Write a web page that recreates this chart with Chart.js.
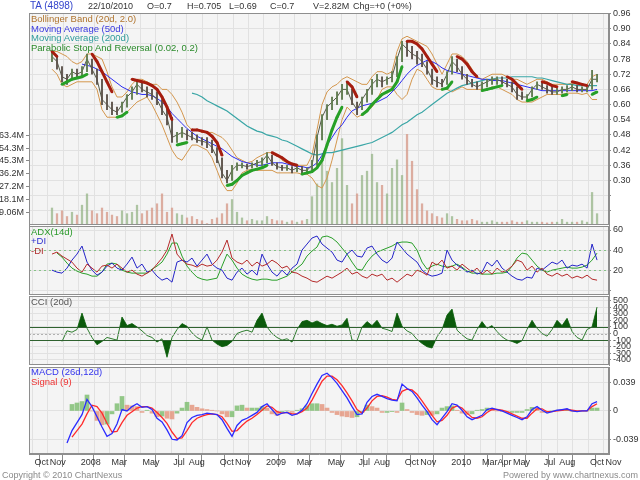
<!DOCTYPE html>
<html>
<head>
<meta charset="utf-8">
<title>TA (4898)</title>
<script src="https://cdn.jsdelivr.net/npm/chart.js@4.4.1/dist/chart.umd.min.js"></script>
<style>
  html, body { margin: 0; padding: 0; background: #fff; }
  #page { position: relative; width: 640px; height: 480px; overflow: hidden; font-family: "Liberation Sans", Arial, sans-serif; }
  #page canvas { position: absolute; left: 0; }
  .txt { position: absolute; font-size: 9.5px; line-height: 10px; white-space: nowrap; }
  .hdr { font-size: 9px; color: #333; top: 1px; }
</style>
</head>
<body>
<div id="page">
  <canvas id="price-chart" width="640" height="224" style="top:7px"></canvas>
  <canvas id="adx-chart" width="640" height="81" style="top:220px"></canvas>
  <canvas id="cci-chart" width="640" height="81" style="top:290px"></canvas>
  <canvas id="macd-chart" width="640" height="113" style="top:361px"></canvas>

  <div class="txt hdr" style="left:30px;color:#3344cc;font-size:10px">TA (4898)</div>
  <div class="txt hdr" style="left:88px">22/10/2010</div>
  <div class="txt hdr" style="left:147px">O=0.7</div>
  <div class="txt hdr" style="left:187px">H=0.705</div>
  <div class="txt hdr" style="left:229px">L=0.69</div>
  <div class="txt hdr" style="left:270px">C=0.7</div>
  <div class="txt hdr" style="left:313px">V=2.82M</div>
  <div class="txt hdr" style="left:353px">Chg=+0 (+0%)</div>

  <div class="txt" style="left:31px;top:14px;color:#b0742e">Bollinger Band (20d, 2.0)</div>
  <div class="txt" style="left:31px;top:24px;color:#3a3ae0">Moving Average (50d)</div>
  <div class="txt" style="left:31px;top:33px;color:#2f9c9c">Moving Average (200d)</div>
  <div class="txt" style="left:31px;top:43px;color:#2a8a2a">Parabolic Stop And Reversal (0.02, 0.2)</div>

  <div class="txt" style="left:31px;top:227px;color:#2a9a2a">ADX(14d)</div>
  <div class="txt" style="left:31px;top:236px;color:#2f2fd0">+DI</div>
  <div class="txt" style="left:31px;top:246px;color:#b03030">-DI</div>

  <div class="txt" style="left:31px;top:297px;color:#555">CCI (20d)</div>

  <div class="txt" style="left:31px;top:367px;color:#3333ee">MACD (26d,12d)</div>
  <div class="txt" style="left:31px;top:377px;color:#ee3333">Signal (9)</div>

  <div class="txt" style="left:2px;top:470px;color:#8a8a8a;font-size:9px">Copyright © 2010 ChartNexus</div>
  <div class="txt" style="right:2px;top:470px;color:#8a8a8a;font-size:9px">Powered by www.chartnexus.com</div>
</div>

<script>
// Points are roughly one per week, x measured in months from 1 Oct 2007
const firstMonth = 1.3;
const monthStep = 0.324;

const closes = [
  0.79,0.77,0.71,0.70,0.73,0.72,0.73,0.78,0.74,0.70,
  0.62,0.60,0.58,0.57,0.60,0.63,0.65,0.68,0.66,0.65,
  0.64,0.62,0.58,0.55,0.47,0.48,0.49,0.48,0.47,0.46,
  0.455,0.45,0.43,0.39,0.33,0.30,0.34,0.36,0.36,0.355,
  0.36,0.37,0.375,0.40,0.37,0.355,0.35,0.35,0.34,0.35,
  0.34,0.34,0.36,0.47,0.55,0.59,0.61,0.63,0.66,0.66,
  0.61,0.58,0.62,0.65,0.68,0.70,0.69,0.70,0.71,0.78,
  0.84,0.82,0.80,0.79,0.77,0.74,0.70,0.69,0.68,0.72,
  0.77,0.75,0.72,0.70,0.68,0.67,0.68,0.69,0.70,0.70,
  0.69,0.68,0.67,0.64,0.63,0.63,0.66,0.68,0.67,0.66,
  0.65,0.65,0.66,0.66,0.67,0.66,0.66,0.66,0.70,0.70
];
const highs = [
  0.81,0.79,0.75,0.72,0.74,0.74,0.75,0.80,0.78,0.74,
  0.70,0.64,0.61,0.59,0.61,0.64,0.67,0.69,0.69,0.67,
  0.66,0.65,0.62,0.59,0.55,0.49,0.51,0.50,0.49,0.48,
  0.47,0.47,0.46,0.43,0.39,0.34,0.36,0.37,0.37,0.365,
  0.37,0.38,0.39,0.41,0.40,0.37,0.36,0.36,0.355,0.36,
  0.355,0.35,0.38,0.48,0.56,0.60,0.63,0.65,0.68,0.69,
  0.66,0.61,0.63,0.66,0.70,0.72,0.71,0.71,0.73,0.79,
  0.85,0.85,0.83,0.81,0.80,0.77,0.74,0.71,0.70,0.73,
  0.79,0.78,0.75,0.72,0.70,0.69,0.69,0.70,0.71,0.71,
  0.71,0.70,0.69,0.67,0.65,0.64,0.67,0.69,0.69,0.675,
  0.67,0.665,0.67,0.675,0.68,0.675,0.67,0.67,0.735,0.72
];
const lows = [
  0.77,0.74,0.69,0.68,0.70,0.71,0.71,0.73,0.72,0.68,
  0.60,0.58,0.56,0.56,0.57,0.59,0.62,0.64,0.65,0.63,
  0.62,0.60,0.56,0.52,0.45,0.45,0.47,0.46,0.46,0.45,
  0.44,0.43,0.41,0.37,0.31,0.29,0.30,0.34,0.35,0.345,
  0.35,0.355,0.36,0.37,0.36,0.345,0.34,0.34,0.33,0.335,
  0.33,0.33,0.34,0.36,0.46,0.54,0.58,0.60,0.62,0.64,
  0.60,0.56,0.58,0.61,0.64,0.67,0.67,0.68,0.69,0.71,
  0.77,0.79,0.78,0.76,0.75,0.72,0.68,0.67,0.67,0.68,
  0.72,0.73,0.70,0.68,0.67,0.66,0.66,0.67,0.68,0.68,
  0.68,0.67,0.65,0.62,0.62,0.615,0.63,0.66,0.66,0.645,
  0.64,0.64,0.645,0.65,0.655,0.65,0.65,0.65,0.66,0.69
];
const bbUpper = [
  0.81,0.81,0.80,0.79,0.77,0.76,0.77,0.80,0.80,0.79,
  0.78,0.73,0.67,0.63,0.63,0.65,0.68,0.70,0.70,0.69,
  0.68,0.68,0.66,0.66,0.64,0.61,0.57,0.52,0.50,0.50,
  0.49,0.49,0.49,0.48,0.47,0.45,0.42,0.39,0.38,0.37,
  0.375,0.39,0.40,0.41,0.41,0.40,0.38,0.37,0.365,0.36,
  0.36,0.36,0.40,0.50,0.60,0.65,0.67,0.68,0.70,0.71,
  0.70,0.69,0.68,0.68,0.71,0.73,0.73,0.72,0.73,0.81,
  0.86,0.87,0.86,0.85,0.84,0.83,0.80,0.76,0.72,0.76,
  0.80,0.80,0.79,0.77,0.74,0.71,0.70,0.71,0.72,0.72,
  0.72,0.71,0.70,0.70,0.69,0.68,0.69,0.70,0.70,0.69,
  0.68,0.68,0.68,0.68,0.685,0.685,0.68,0.68,0.71,0.72
];
const bbLower = [
  0.74,0.72,0.68,0.67,0.68,0.69,0.69,0.69,0.69,0.66,
  0.58,0.55,0.55,0.55,0.56,0.57,0.59,0.61,0.62,0.63,
  0.60,0.56,0.52,0.47,0.42,0.39,0.38,0.41,0.44,0.44,
  0.43,0.42,0.39,0.34,0.29,0.26,0.26,0.29,0.33,0.34,
  0.345,0.34,0.34,0.34,0.34,0.33,0.33,0.33,0.33,0.33,
  0.325,0.325,0.31,0.28,0.27,0.31,0.38,0.46,0.54,0.59,
  0.57,0.55,0.56,0.58,0.59,0.62,0.66,0.67,0.67,0.64,
  0.62,0.64,0.70,0.74,0.73,0.70,0.67,0.66,0.66,0.66,
  0.65,0.66,0.67,0.66,0.66,0.66,0.66,0.66,0.67,0.67,
  0.66,0.65,0.64,0.62,0.61,0.61,0.61,0.62,0.63,0.64,
  0.64,0.64,0.64,0.645,0.645,0.645,0.64,0.645,0.62,0.62
];
const ma50 = [
  null,null,null,null,null,null,0.76,0.755,0.75,0.74,
  0.73,0.715,0.70,0.685,0.67,0.66,0.65,0.645,0.64,0.64,
  0.635,0.625,0.61,0.59,0.565,0.545,0.525,0.505,0.49,0.475,
  0.465,0.455,0.445,0.435,0.425,0.41,0.395,0.385,0.375,0.37,
  0.365,0.36,0.36,0.365,0.37,0.37,0.37,0.365,0.36,0.355,
  0.355,0.35,0.355,0.37,0.40,0.44,0.47,0.50,0.52,0.55,
  0.575,0.585,0.595,0.60,0.605,0.61,0.62,0.63,0.65,0.67,
  0.695,0.72,0.74,0.755,0.765,0.775,0.77,0.76,0.745,0.735,
  0.73,0.725,0.72,0.715,0.71,0.705,0.70,0.70,0.695,0.695,
  0.695,0.69,0.685,0.68,0.675,0.67,0.665,0.66,0.655,0.655,
  0.655,0.655,0.655,0.655,0.655,0.655,0.655,0.655,0.655,0.66
];
const ma200 = [
  null,null,null,null,null,null,null,null,null,null,
  null,null,null,null,null,null,null,null,null,null,
  null,null,null,null,null,null,null,null,0.645,0.64,
  0.63,0.615,0.605,0.595,0.585,0.575,0.56,0.545,0.53,0.515,
  0.505,0.495,0.49,0.48,0.475,0.47,0.46,0.455,0.445,0.435,
  0.425,0.415,0.405,0.40,0.405,0.41,0.41,0.415,0.42,0.425,
  0.43,0.435,0.44,0.445,0.45,0.46,0.47,0.48,0.49,0.505,
  0.52,0.53,0.545,0.56,0.57,0.585,0.60,0.615,0.63,0.645,
  0.655,0.665,0.675,0.68,0.685,0.69,0.695,0.70,0.70,0.705,
  0.705,0.705,0.71,0.71,0.71,0.71,0.71,0.705,0.705,0.70,
  0.695,0.69,0.685,0.68,0.68,0.675,0.675,0.675,0.675,0.675
];
// parabolic SAR, above the price (falling) and below it (rising)
const sarAbove = [
  0.81,0.79,null,null,null,null,null,null,0.80,0.77,
  0.73,0.69,0.65,null,null,null,0.70,0.695,0.69,0.685,
  0.675,0.66,0.63,0.59,0.54,null,null,null,0.50,0.50,
  0.495,0.49,0.475,0.45,0.40,null,null,null,null,null,
  null,null,null,null,0.41,0.40,0.39,0.375,0.365,0.36,
  null,null,null,null,null,null,null,null,null,0.69,
  0.67,0.63,null,null,null,null,null,null,null,null,
  null,0.85,0.85,0.84,0.82,0.79,0.76,0.73,null,null,
  null,0.79,0.78,0.76,0.73,0.71,null,null,null,null,
  null,0.71,0.70,0.68,0.66,null,null,null,0.69,0.685,
  0.675,0.67,null,null,0.69,0.685,0.68,0.675,null,null
];
const sarBelow = [
  null,null,0.68,0.69,0.70,0.705,0.71,0.72,null,null,
  null,null,null,0.55,0.555,0.57,null,null,null,null,
  null,null,null,null,null,0.44,0.445,0.45,null,null,
  null,null,null,null,null,0.28,0.285,0.30,0.32,0.33,
  0.34,0.345,0.35,0.36,null,null,null,null,null,null,
  0.325,0.33,0.335,0.35,0.38,0.44,0.50,0.55,0.59,null,
  null,null,0.56,0.575,0.60,0.62,0.64,0.65,0.66,0.69,
  0.75,null,null,null,null,null,null,null,0.66,0.665,
  0.69,null,null,null,null,null,0.655,0.66,0.665,0.67,
  0.675,null,null,null,null,0.615,0.62,0.63,null,null,
  null,null,0.635,0.64,null,null,null,null,0.64,0.65
];
// volume in millions of shares
const volumes = [
  12,8,10,6,9,7,14,22,10,8,
  12,9,7,6,10,8,9,14,8,10,
  12,15,22,9,12,8,7,5,6,4,
  3,1,4,5,8,15,18,9,5,3,
  4,3,3,6,4,3,3,2,3,2,
  3,4,20,29,45,38,30,40,61,28,
  15,22,35,38,50,30,28,22,40,46,
  35,64,45,25,15,10,8,6,5,8,
  6,4,3,3,4,3,2,2,3,2,
  2,2,3,2,2,3,2,2,2,1.5,
  2,2,4,2,2,2,3,2,23,8
];
const plusDI = [
  20,18,17,22,30,36,44,28,20,15,
  18,24,27,22,20,26,33,22,26,18,
  20,14,10,12,8,28,30,28,32,24,
  30,36,26,22,20,12,10,18,22,16,
  20,15,36,26,18,14,20,15,22,26,
  40,46,52,54,46,42,38,30,28,36,
  40,34,33,42,44,36,30,27,32,48,
  42,36,32,28,20,16,14,15,17,40,
  30,25,22,18,20,16,18,28,24,30,
  22,18,14,11,10,13,12,22,20,24,
  28,26,30,22,25,24,26,22,46,30
];
const minusDI = [
  36,38,34,31,28,22,18,26,22,18,
  24,25,22,26,22,18,20,16,14,17,
  20,26,32,40,56,36,30,26,25,23,
  26,24,25,30,38,50,32,28,26,30,
  24,28,24,26,30,27,22,24,18,17,
  14,12,9,8,11,14,12,15,18,22,
  16,18,14,12,16,14,16,10,12,8,
  12,16,14,20,18,15,28,25,30,22,
  24,20,26,22,18,22,16,20,16,22,
  18,20,24,30,28,20,24,18,22,16,
  14,17,14,16,12,14,12,15,11,10
];
const adx = [
  null,37,33,27,22,19,17,16,14,14,
  18,26,27,26,20,18,17,17,17,17,
  21,24,28,36,47,47,34,24,18,13,
  11,10,11,12,24,36,30,22,16,13,
  11,10,11,11,10,10,12,14,18,22,
  26,34,39,43,53,54,52,48,42,36,
  28,21,20,28,34,38,40,42,44,47,
  48,48,47,40,28,21,24,26,24,23,
  24,26,23,19,17,17,16,16,16,17,
  17,18,24,32,37,36,30,24,20,18,
  20,21,22,23,22,22,23,25,30,37
];
const cci = [
  null,null,-120,40,20,60,310,80,-60,-170,
  -120,-60,-80,-100,250,120,150,100,40,-30,
  -60,-130,-80,-360,-60,60,150,110,10,-60,
  -100,100,-100,-160,-200,-180,-120,0,30,50,
  20,200,310,100,0,-60,-100,-80,-130,60,
  180,200,160,190,150,120,140,110,130,230,
  -100,-110,100,180,120,200,80,60,30,310,
  110,40,0,-90,-150,-200,-220,-50,60,280,
  370,50,-20,-80,-100,60,180,80,120,30,
  -50,-100,-120,-150,-110,60,200,80,0,-40,
  60,200,120,230,30,-60,-100,60,100,400
];
const macd = [
  null,null,null,-0.044,-0.027,-0.016,-0.005,0.016,0.006,-0.008,
  -0.022,-0.035,-0.031,-0.018,0.002,0.000,0.006,0.010,0.005,0.006,
  0.002,-0.010,-0.015,-0.026,-0.039,-0.040,-0.034,-0.016,-0.009,-0.006,
  -0.005,-0.003,-0.004,-0.005,-0.012,-0.024,-0.035,-0.020,-0.013,-0.010,
  -0.006,-0.002,0.006,0.010,0.002,-0.006,-0.003,-0.002,-0.006,-0.004,
  0.001,0.010,0.024,0.037,0.049,0.052,0.046,0.038,0.028,0.018,
  0.006,-0.005,-0.004,0.012,0.020,0.023,0.020,0.017,0.015,0.014,
  0.037,0.031,0.027,0.018,0.008,-0.001,-0.012,-0.019,-0.010,-0.001,
  0.010,0.008,0.001,-0.008,-0.012,-0.009,-0.006,0.002,0.004,0.002,
  0.000,-0.003,-0.006,-0.009,-0.012,-0.008,0.002,0.006,0.001,-0.003,
  -0.001,0.001,0.002,0.003,0.000,-0.001,0.000,0.000,0.010,0.013
];
const signal = [
  null,null,null,null,-0.036,-0.027,-0.018,-0.004,0.008,0.006,
  -0.003,-0.017,-0.029,-0.028,-0.016,-0.006,-0.001,0.004,0.006,0.006,
  0.004,-0.002,-0.009,-0.017,-0.029,-0.038,-0.037,-0.027,-0.016,-0.010,
  -0.007,-0.005,-0.004,-0.005,-0.008,-0.017,-0.028,-0.027,-0.020,-0.014,
  -0.010,-0.005,0.001,0.007,0.005,-0.001,-0.003,-0.002,-0.004,-0.004,
  -0.001,0.004,0.015,0.028,0.041,0.048,0.048,0.043,0.035,0.025,
  0.014,0.002,-0.003,0.004,0.014,0.020,0.021,0.019,0.016,0.015,
  0.027,0.030,0.029,0.023,0.014,0.004,-0.006,-0.015,-0.013,-0.006,
  0.004,0.007,0.004,-0.003,-0.009,-0.010,-0.008,-0.002,0.002,0.002,
  0.001,-0.001,-0.004,-0.007,-0.010,-0.010,-0.003,0.003,0.003,-0.001,
  -0.001,0.000,0.001,0.002,0.001,0.000,0.000,0.000,0.006,0.010
];
const macdHist = [
  null,null,null,null,0.009,0.011,0.013,0.022,0.000,-0.013,
  -0.019,-0.018,-0.004,0.010,0.020,0.008,0.007,0.006,-0.002,0.001,
  -0.003,-0.008,-0.007,-0.010,-0.011,-0.003,0.004,0.012,0.008,0.005,
  0.003,0.002,0.001,0.000,-0.004,-0.008,-0.008,0.007,0.008,0.004,
  0.004,0.004,0.006,0.004,-0.004,-0.006,-0.001,0.000,-0.002,0.001,
  0.003,0.007,0.010,0.010,0.009,0.004,-0.002,-0.005,-0.007,-0.008,
  -0.009,-0.008,-0.002,0.008,0.006,0.004,-0.002,-0.002,-0.001,-0.002,
  0.011,0.002,-0.002,-0.005,-0.006,-0.005,-0.006,-0.004,0.004,0.006,
  0.007,0.001,-0.003,-0.005,-0.004,0.001,0.002,0.004,0.003,0.000,
  -0.001,-0.002,-0.002,-0.002,-0.002,0.002,0.005,0.004,-0.002,-0.002,
  0.000,0.001,0.001,0.001,-0.001,-0.001,0.000,0.000,0.004,0.004
];

// axis ticks and labels
const axisMonths = [0,1,3,5,7,9,10,12,13,15,17,19,21,22,24,25,27,29,30,31,33,34,36,37];
const axisLabels = ['Oct','Nov','2008','Mar','May','Jul','Aug','Oct','Nov','2009','Mar','May',
                    'Jul','Aug','Oct','Nov','2010','Mar','Apr','May','Jul','Aug','Oct','Nov'];
const priceTicks = [0.18,0.24,0.30,0.36,0.42,0.48,0.54,0.60,0.66,0.72,0.78,0.84,0.90,0.96];
const volumeTicks = [9.06,18.1,27.2,36.2,45.3,54.3,63.4];
const volumeTickLabels = ['9.06M','18.1M','27.2M','36.2M','45.3M','54.3M','63.4M'];
const adxTicks = [0,20,40,60];
const cciTicks = [-400,-300,-200,-100,0,100,200,300,400,500];
const macdTicks = [-0.039,0,0.039];

const xMin = -0.19, xMax = 37.39;
const FONT = '"Liberation Sans", Arial, sans-serif';
Chart.defaults.font.family = FONT;
Chart.defaults.font.size = 9;

const toPoints = values => values.map((v, i) => ({x: firstMonth + i * monthStep, y: v}));

// background, monthly grid and frame for every panel
const panelFrame = {
  id: 'panelFrame',
  beforeDraw(chart) {
    const {ctx, chartArea: a, scales} = chart;
    ctx.save();
    ctx.fillStyle = '#f4f4f4';
    ctx.fillRect(a.left, a.top, a.width, a.height);
    ctx.strokeStyle = '#e1e1e1';
    ctx.lineWidth = 1;
    for (let m = 0; m <= 37; m++) {
      const px = Math.round(scales.x.getPixelForValue(m)) + 0.5;
      ctx.beginPath();
      ctx.moveTo(px, a.top);
      ctx.lineTo(px, a.bottom);
      ctx.stroke();
    }
    ctx.restore();
  },
  afterDraw(chart) {
    const {ctx, chartArea: a} = chart;
    ctx.save();
    ctx.strokeStyle = '#8e8e8e';
    ctx.lineWidth = 1;
    ctx.strokeRect(a.left + 0.5, a.top + 0.5, a.width - 1, a.height - 1);
    ctx.restore();
  }
};

// horizontal reference lines (ADX 20/40, CCI +-100 and 0)
const levelLines = {
  id: 'levelLines',
  afterDatasetsDraw(chart, args, opts) {
    if (!opts.lines) return;
    const {ctx, chartArea: a, scales: {y}} = chart;
    ctx.save();
    opts.lines.forEach(l => {
      const py = Math.round(y.getPixelForValue(l.value)) + 0.5;
      ctx.strokeStyle = l.color;
      ctx.lineWidth = l.width || 1;
      ctx.setLineDash(l.dash || []);
      ctx.beginPath();
      ctx.moveTo(a.left, py);
      ctx.lineTo(a.right, py);
      ctx.stroke();
    });
    ctx.restore();
  }
};

function rightAxis(min, max, ticks, label) {
  return {
    position: 'right',
    min: min,
    max: max,
    afterBuildTicks: s => { s.ticks = ticks.map(v => ({value: v})); },
    afterFit: s => { s.width = 31; s.paddingTop = 0; s.paddingBottom = 0; },
    ticks: { autoSkip: false, padding: 2, color: '#333', font: {size: 9}, callback: label },
    grid: { color: '#e1e1e1', tickLength: 2, tickColor: '#888' },
    border: { color: '#8e8e8e' }
  };
}

function hiddenX() {
  return { type: 'linear', min: xMin, max: xMax, offset: false, display: false };
}

function line(data, color, width, extra) {
  return Object.assign({
    type: 'line',
    data: toPoints(data),
    borderColor: color,
    backgroundColor: color,
    borderWidth: width,
    pointRadius: 0,
    pointBorderWidth: 0,
    tension: 0,
    fill: false,
    spanGaps: false
  }, extra || {});
}

function baseOptions(scales, leftPad, plugins) {
  return {
    responsive: false,
    animation: false,
    devicePixelRatio: 1,
    layout: { padding: { top: 6, bottom: 6, left: leftPad, right: 0 } },
    scales: scales,
    plugins: Object.assign({ legend: { display: false }, tooltip: { enabled: false } }, plugins || {})
  };
}

// ---------- price + volume ----------
const upVol = 'rgba(150,180,135,0.75)';
const downVol = 'rgba(212,150,132,0.75)';
const volColors = volumes.map((v, i) => (i > 0 && closes[i] < closes[i - 1]) ? downVol : upVol);
const upBar = '#5f7a4e';
const downBar = '#5a5048';
const rangeColors = closes.map((v, i) => (i > 0 && v < closes[i - 1]) ? downBar : upBar);

new Chart(document.getElementById('price-chart'), {
  type: 'line',
  data: {
    datasets: [
      { type: 'bar', data: toPoints(volumes), yAxisID: 'vol', backgroundColor: volColors,
        barThickness: 1.6, grouped: false, order: 10 },
      line(bbUpper, '#d4974e', 1, { order: 6 }),
      line(bbLower, '#d4974e', 1, { order: 6 }),
      line(ma200, '#3aa6a6', 1.2, { order: 5 }),
      line(ma50, '#2c2cf0', 1, { order: 4 }),
      { type: 'bar', data: lows.map((lo, i) => ({x: firstMonth + i * monthStep, y: [lo, highs[i]]})),
        backgroundColor: rangeColors, barThickness: 1.2, grouped: false, order: 3 },
      line(closes, '#555a48', 1, { order: 3 }),
      line(sarAbove, '#a51d0f', 3, { order: 2, pointRadius: 1.3 }),
      line(sarBelow, '#27a027', 3, { order: 2, pointRadius: 1.3 })
    ]
  },
  options: baseOptions({
    x: hiddenX(),
    y: rightAxis(0.124, 0.962, priceTicks, v => v >= 0.29 ? v.toFixed(2) : ''),
    vol: {
      position: 'left',
      min: 0,
      max: 149.7,
      afterBuildTicks: s => { s.ticks = volumeTicks.map(v => ({value: v})); },
      afterFit: s => { s.width = 29; s.paddingTop = 0; s.paddingBottom = 0; },
      ticks: { autoSkip: false, padding: 2, color: '#333', font: {size: 9},
               callback: (v, i) => volumeTickLabels[i] },
      grid: { drawOnChartArea: false, tickLength: 3, tickColor: '#888' },
      border: { color: '#8e8e8e' }
    }
  }, 0),
  plugins: [panelFrame]
});

// ---------- ADX ----------
new Chart(document.getElementById('adx-chart'), {
  type: 'line',
  data: {
    datasets: [
      line(minusDI, '#b52a2a', 1),
      line(plusDI, '#2424c8', 1),
      line(adx, '#2aa02a', 1)
    ]
  },
  options: baseOptions({
    x: hiddenX(),
    y: rightAxis(-4.8, 64, adxTicks, v => v > 0 ? String(v) : '')
  }, 29, {
    levelLines: { lines: [
      { value: 40, color: '#86c286', dash: [2, 3] },
      { value: 20, color: '#86c286', dash: [2, 3] }
    ] }
  }),
  plugins: [panelFrame, levelLines]
});

// ---------- CCI ----------
const cciFill = '#0b5a0b';
new Chart(document.getElementById('cci-chart'), {
  type: 'line',
  data: {
    datasets: [
      line(cci, 'rgba(0,0,0,0)', 0, { fill: { target: { value: 100 }, above: cciFill, below: 'rgba(0,0,0,0)' } }),
      line(cci, 'rgba(0,0,0,0)', 0, { fill: { target: { value: -100 }, above: 'rgba(0,0,0,0)', below: cciFill } }),
      line(cci, '#2e7d2e', 1)
    ]
  },
  options: baseOptions({
    x: hiddenX(),
    y: rightAxis(-477, 568, cciTicks, v => String(v))
  }, 29, {
    levelLines: { lines: [
      { value: 0, color: '#b0b0b0', dash: [2, 2] },
      { value: 100, color: '#2f622f', width: 1.2 },
      { value: -100, color: '#2f622f', width: 1.2 }
    ] }
  }),
  plugins: [panelFrame, levelLines]
});

// ---------- MACD ----------
const histUp = 'rgba(128,190,115,0.85)';
const histDown = 'rgba(228,152,128,0.85)';
const histColors = macdHist.map((v, i) => (i > 0 && v < macdHist[i - 1]) ? histDown : histUp);

new Chart(document.getElementById('macd-chart'), {
  type: 'line',
  data: {
    datasets: [
      { type: 'bar', data: toPoints(macdHist), backgroundColor: histColors,
        barThickness: 4, grouped: false, order: 10 },
      line(signal, '#ff2b2b', 1.3, { order: 2 }),
      line(macd, '#2b2bff', 1.3, { order: 1 })
    ]
  },
  options: baseOptions({
    x: {
      type: 'linear', min: xMin, max: xMax, offset: false,
      afterBuildTicks: s => { s.ticks = axisMonths.map(v => ({value: v})); },
      afterFit: s => { s.height = 14; s.paddingLeft = 0; s.paddingRight = 0; },
      ticks: { autoSkip: false, maxRotation: 0, align: 'start', padding: -10, color: '#333',
               font: {size: 9}, callback: (v, i) => ' ' + axisLabels[i] },
      grid: { drawOnChartArea: false, tickLength: 13, tickColor: '#8a8a8a' },
      border: { color: '#8e8e8e' }
    },
    y: rightAxis(-0.0593, 0.0606, macdTicks, v => v === 0 ? '0' : v.toFixed(3))
  }, 29),
  plugins: [panelFrame]
});
</script>
</body>
</html>
